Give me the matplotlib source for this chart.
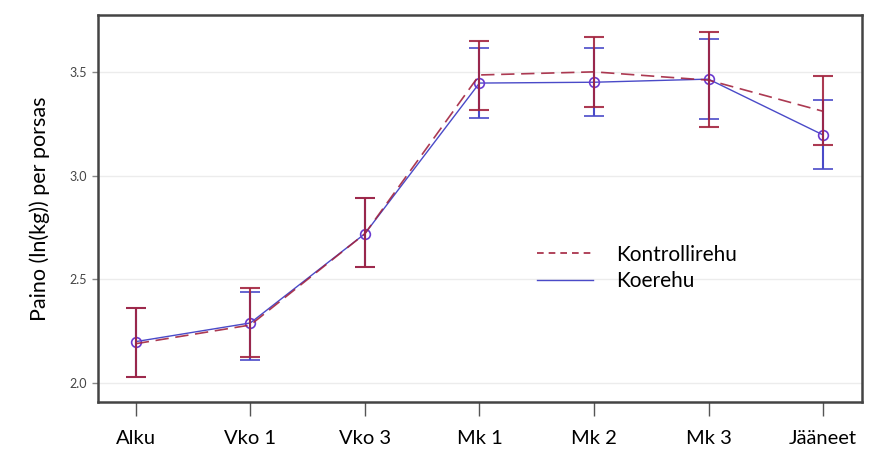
import matplotlib.pyplot as plt
from matplotlib.lines import Line2D
import numpy as np

plt.rcParams['font.family'] = ['Lato', 'DejaVu Sans']

labels = ["Alku", "Vko 1", "Vko 3", "Mk 1", "Mk 2", "Mk 3", "Jääneet"]

kontrolli = [2.19, 2.28, 2.72, 3.485, 3.50, 3.46, 3.31]
kontrolli_lo = [2.03, 2.125, 2.56, 3.317, 3.333, 3.232, 3.146]
kontrolli_hi = [2.36, 2.46, 2.89, 3.649, 3.667, 3.694, 3.48]

koe = [2.20, 2.29, 2.72, 3.446, 3.45, 3.465, 3.196]
koe_lo = [2.03, 2.11, 2.56, 3.277, 3.285, 3.272, 3.03]
koe_hi = [2.36, 2.44, 2.89, 3.614, 3.617, 3.657, 3.362]

red = '#a3243f'
blue = '#4a4ac8'

x = np.arange(len(labels))

fig = plt.figure(figsize=(8.69, 4.53), dpi=100)
ax = fig.add_axes([98/869, 51/453, 764/869, 387/453])

for yv in [2.0, 2.5, 3.0, 3.5]:
    ax.axhline(yv, color='#ececec', lw=1, zorder=0)

koe = np.array(koe)
kontrolli = np.array(kontrolli)
ax.errorbar(x, koe, yerr=[koe - np.array(koe_lo), np.array(koe_hi) - koe],
            color=blue, lw=1, capsize=7.5, capthick=1.5, elinewidth=1.5,
            marker='o', ms=7, mfc='none', mec='#6a3ad0', mew=1.2, zorder=2)
ax.errorbar(x, kontrolli, yerr=[kontrolli - np.array(kontrolli_lo), np.array(kontrolli_hi) - kontrolli],
            color=red, lw=1.2, ls=(0, (8, 4)), capsize=7.5, capthick=1.5, elinewidth=1.5,
            zorder=3, alpha=0.9)

ax.set_xlim(-0.33, 6.34)
ax.set_ylim(1.909, 3.774)
ax.set_xticks(x)
ax.set_xticklabels(labels, fontsize=14.5)
ax.set_yticks([2.0, 2.5, 3.0, 3.5])
ax.set_yticklabels(['2.0', '2.5', '3.0', '3.5'], fontsize=9, color='#444444')
ax.tick_params(axis='x', length=10, width=1, color='#555555', pad=10)
ax.tick_params(axis='y', length=4, width=1, color='#888888', pad=4)
ax.set_ylabel('Paino (ln(kg)) per porsas', fontsize=15.5, labelpad=14)

for s in ax.spines.values():
    s.set_color('#444444')
    s.set_linewidth(1.8)

handles = [Line2D([], [], color=red, lw=1.2, ls=(0, (4, 3))),
           Line2D([], [], color=blue, lw=1)]
ax.legend(handles, ['Kontrollirehu', 'Koerehu'], loc='upper left', bbox_to_anchor=(0.55, 0.455),
          frameon=False, fontsize=15, handlelength=2.7, handletextpad=1.1,
          labelspacing=0.3)

fig.savefig('out.png', dpi=100)
